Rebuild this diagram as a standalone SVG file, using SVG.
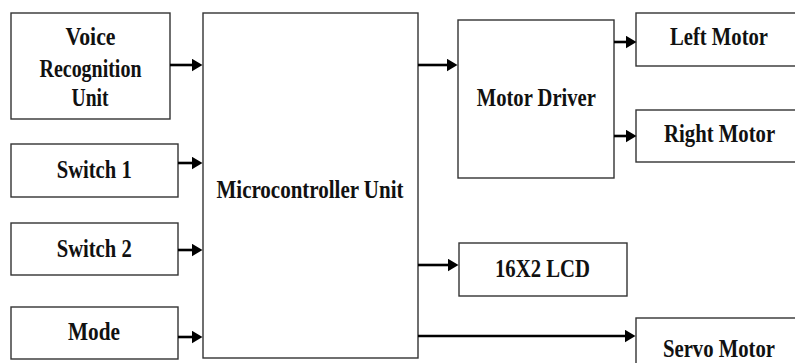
<svg xmlns="http://www.w3.org/2000/svg" width="795" height="363" viewBox="0 0 795 363">
<style>
.box{fill:#fff;stroke:#333;stroke-width:1.4}
.lbl{font-family:"Liberation Serif","Times New Roman",serif;font-weight:bold;font-size:25px;fill:#111;text-anchor:middle}
.arr{stroke:#000;stroke-width:2.6;fill:none}
</style>
<defs>
<marker id="ah" viewBox="0 0 11 13" markerWidth="11" markerHeight="13" refX="0.5" refY="6.5" orient="auto" markerUnits="userSpaceOnUse">
<path d="M0,0 L11,6.5 L0,13 z" fill="#000"/>
</marker>
</defs>
<rect width="795" height="363" fill="#fff"/>
<g id="voice">
<rect class="box" x="11" y="13" width="159" height="106"/>
<text class="lbl" x="90.5" y="45" textLength="50" lengthAdjust="spacingAndGlyphs">Voice</text>
<text class="lbl" x="90.5" y="77" textLength="102" lengthAdjust="spacingAndGlyphs">Recognition</text>
<text class="lbl" x="90" y="106" textLength="37" lengthAdjust="spacingAndGlyphs">Unit</text>
</g>
<g id="switch1">
<rect class="box" x="11" y="144" width="167" height="53"/>
<text class="lbl" x="94.2" y="178" textLength="75" lengthAdjust="spacingAndGlyphs">Switch 1</text>
</g>
<g id="switch2">
<rect class="box" x="11" y="223" width="167" height="52"/>
<text class="lbl" x="94.2" y="257" textLength="75" lengthAdjust="spacingAndGlyphs">Switch 2</text>
</g>
<g id="mode">
<rect class="box" x="11" y="307" width="167" height="52"/>
<text class="lbl" x="94" y="340" textLength="52" lengthAdjust="spacingAndGlyphs">Mode</text>
</g>
<g id="mcu">
<rect class="box" x="203" y="13" width="215" height="345"/>
<text class="lbl" x="310" y="198" textLength="187" lengthAdjust="spacingAndGlyphs">Microcontroller Unit</text>
</g>
<g id="motordriver">
<rect class="box" x="458" y="20" width="156" height="158"/>
<text class="lbl" x="536.3" y="106" textLength="119" lengthAdjust="spacingAndGlyphs">Motor Driver</text>
</g>
<g id="leftmotor">
<rect class="box" x="636" y="13" width="170" height="53"/>
<text class="lbl" x="719" y="45" textLength="98" lengthAdjust="spacingAndGlyphs">Left Motor</text>
</g>
<g id="rightmotor">
<rect class="box" x="636" y="110" width="170" height="52"/>
<text class="lbl" x="719.6" y="142" textLength="111" lengthAdjust="spacingAndGlyphs">Right Motor</text>
</g>
<g id="lcd">
<rect class="box" x="459" y="243" width="168" height="53"/>
<text class="lbl" x="542.5" y="277" textLength="95" lengthAdjust="spacingAndGlyphs">16X2 LCD</text>
</g>
<g id="servo">
<rect class="box" x="636" y="318" width="170" height="60"/>
<text class="lbl" x="719" y="357" textLength="112" lengthAdjust="spacingAndGlyphs">Servo Motor</text>
</g>
<g id="connectors">
<path class="arr" d="M170,65 H192" marker-end="url(#ah)"/>
<path class="arr" d="M178,163 H192" marker-end="url(#ah)"/>
<path class="arr" d="M178,250 H192" marker-end="url(#ah)"/>
<path class="arr" d="M178,337 H192" marker-end="url(#ah)"/>
<path class="arr" d="M418,65 H447" marker-end="url(#ah)"/>
<path class="arr" d="M614,42 H626" marker-end="url(#ah)"/>
<path class="arr" d="M614,136 H626" marker-end="url(#ah)"/>
<path class="arr" d="M418,265 H448" marker-end="url(#ah)"/>
<path class="arr" d="M418,336 H625" marker-end="url(#ah)"/>
</g>
</svg>
